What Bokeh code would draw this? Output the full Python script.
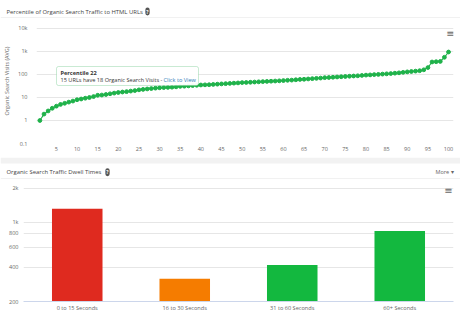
from bokeh.plotting import figure
from bokeh.layouts import column
from bokeh.models import (Range1d, FactorRange, FixedTicker, Label, Span,
                          BoxAnnotation, ColumnDataSource)
from bokeh.embed import file_html
from bokeh.resources import INLINE

# ---------------- data ----------------
percentiles = list(range(1, 101))
avg_visits = [
    1, 1.9, 2.6, 3.4, 4.2, 5.0, 5.6, 6.3, 7.0, 8.0,
    8.6, 9.3, 10, 11, 12.5, 12.8, 13.5, 14.5, 15.5, 16.5,
    17.3, 18, 19, 20, 21.5, 22.5, 23.5, 24.5, 25.5, 26.5,
    27, 27.5, 28, 29, 30.5, 31, 32, 33, 34, 35,
    35.5, 36, 37, 38, 39, 40, 41, 42, 43, 44.5,
    45, 46, 47, 48, 49, 50, 51, 52, 53, 54.5,
    56, 57, 59, 61, 62, 64, 66, 68, 70, 73,
    74, 76, 78, 80, 82, 84, 86, 88, 91, 94,
    96, 99, 101, 104, 107, 110, 114, 118, 124, 130,
    135, 140, 146, 160, 200, 350, 360, 370, 560, 950,
]
pct_ticks = [5, 10, 15, 20, 25, 30, 35, 40, 45, 50, 55, 60, 65, 70, 75, 80, 85, 90, 95, 100]
visit_ticks = [0.1, 1, 10, 100, 1000, 10000]
visit_tick_labels = ["0.1", "1", "10", "100", "1k", "10k"]

dwell_cats = ["0 to 15 Seconds", "16 to 30 Seconds", "31 to 60 Seconds", "60+ Seconds"]
dwell_vals = [1320, 318, 420, 840]
dwell_colors = ["#df2a1f", "#f57c00", "#13b83f", "#13b83f"]
dwell_ticks = [200, 400, 600, 800, 1000, 2000]
dwell_tick_labels = ["200", "400", "600", "800", "1k", "2k"]

FONT = "Open Sans"
GRID = "#e6e6e6"
TXT = "#666666"
HEAD = "#444444"
LINE_G = "#1fb24a"
W = 460


def header_fig(h):
    f = figure(width=W, height=h, x_range=Range1d(0, W), y_range=Range1d(0, h),
               x_axis_location=None, y_axis_location=None,
               output_backend="svg", toolbar_location=None,
               min_border=0, frame_align=False)
    f.grid.visible = False
    f.outline_line_color = None
    return f


def style_axis(ax, size="5.5px", standoff=3):
    ax.axis_line_color = None
    ax.major_tick_line_color = None
    ax.minor_tick_line_color = None
    ax.major_tick_out = 0
    ax.major_tick_in = 0
    ax.minor_tick_out = 0
    ax.major_label_standoff = standoff
    ax.major_label_text_font_size = size
    ax.major_label_text_font = FONT
    ax.major_label_text_color = TXT


def icon(x, y):
    return Label(x=x, y=y, text="?", text_font=FONT, text_font_size="4.8px",
                 text_font_style="bold", text_color="white", text_baseline="middle",
                 text_align="center", background_fill_color="#555555",
                 border_radius=4, padding=1)


# ---------------- header 1 ----------------
h1 = header_fig(18)
h1.add_layout(Label(x=6, y=7, text="Percentile of Organic Search Traffic to HTML URLs",
                    text_font=FONT, text_font_size="5.9px", text_color=HEAD,
                    text_baseline="middle"))
h1.add_layout(icon(147, 7))
h1.add_layout(Span(location=0.5, dimension="width", line_color="#e3e3e3", line_width=1))

# ---------------- top chart ----------------
p1 = figure(width=W, height=139, x_range=Range1d(0.18, 101.2),
            y_range=Range1d(0.1, 27200), y_axis_type="log",
            output_backend="svg", toolbar_location=None, frame_align=False,
            min_border_left=34, min_border_right=7, min_border_top=0, min_border_bottom=14)
p1.outline_line_color = None
p1.xgrid.grid_line_color = None
p1.ygrid.grid_line_color = GRID
p1.ygrid.ticker = FixedTicker(ticks=visit_ticks)

p1.yaxis.ticker = FixedTicker(ticks=visit_ticks)
p1.yaxis.major_label_overrides = {v: s for v, s in zip(visit_ticks, visit_tick_labels)}
style_axis(p1.yaxis[0], standoff=9)
p1.yaxis.axis_label = "Organic Search Visits (AVG)"
p1.yaxis.axis_label_text_font_size = "5.5px"
p1.yaxis.axis_label_text_font = FONT
p1.yaxis.axis_label_text_font_style = "normal"
p1.yaxis.axis_label_text_color = TXT
p1.yaxis.axis_label_standoff = 4

p1.xaxis.ticker = FixedTicker(ticks=pct_ticks)
style_axis(p1.xaxis[0], standoff=3)

src1 = ColumnDataSource(dict(x=percentiles, y=avg_visits))
p1.line("x", "y", source=src1, line_color=LINE_G, line_width=1.1)
p1.scatter("x", "y", source=src1, size=3.8, fill_color=LINE_G, line_color=LINE_G)

p1.add_layout(Label(x=414, y=110, x_units="screen", y_units="screen", text="≡",
                    text_font="DejaVu Sans", text_font_size="10px", text_color="#666666",
                    text_baseline="middle", text_align="center"))

# tooltip
p1.add_layout(BoxAnnotation(left=20, right=162, bottom=58, top=77,
                            left_units="screen", right_units="screen",
                            bottom_units="screen", top_units="screen",
                            fill_color="white", fill_alpha=0.95,
                            line_color="#4cbb6c", line_width=1, border_radius=2))
p1.add_layout(Label(x=24, y=71, x_units="screen", y_units="screen", text="Percentile 22",
                    text_font=FONT, text_font_size="5.6px", text_font_style="bold",
                    text_color="#333333", text_baseline="middle"))
p1.add_layout(Label(x=24, y=64, x_units="screen", y_units="screen",
                    text="15 URLs have 18 Organic Search Visits - ",
                    text_font=FONT, text_font_size="5.6px", text_color="#333333",
                    text_baseline="middle"))
p1.add_layout(Label(x=127, y=64, x_units="screen", y_units="screen",
                    text="Click to View",
                    text_font=FONT, text_font_size="5.6px", text_color="#2a7ab8",
                    text_baseline="middle"))

# ---------------- header 2 ----------------
h2 = header_fig(22)
h2.add_layout(BoxAnnotation(bottom=16, top=22, fill_color="#f2f2f2", fill_alpha=1,
                            line_color=None))
h2.add_layout(Label(x=6, y=7.3, text="Organic Search Traffic Dwell Times",
                    text_font=FONT, text_font_size="5.9px", text_color=HEAD,
                    text_baseline="middle"))
h2.add_layout(icon(107, 7.3))
h2.add_layout(Label(x=435, y=7.3, text="More ▾", text_font=FONT, text_font_size="5.5px",
                    text_color="#666666", text_baseline="middle"))
h2.add_layout(Span(location=0.5, dimension="width", line_color="#e3e3e3", line_width=1))

# ---------------- bottom chart ----------------
p2 = figure(width=W, height=135, x_range=FactorRange(factors=dwell_cats, range_padding=0),
            y_range=Range1d(200, 2391), y_axis_type="log",
            output_backend="svg", toolbar_location=None, frame_align=False,
            min_border_left=23, min_border_right=7, min_border_top=0, min_border_bottom=10)
p2.outline_line_color = None
p2.xgrid.grid_line_color = None
p2.ygrid.grid_line_color = GRID
p2.ygrid.ticker = FixedTicker(ticks=dwell_ticks)

p2.yaxis.ticker = FixedTicker(ticks=dwell_ticks)
p2.yaxis.major_label_overrides = {v: s for v, s in zip(dwell_ticks, dwell_tick_labels)}
style_axis(p2.yaxis[0], standoff=5)

style_axis(p2.xaxis[0], size="5.6px", standoff=2)
p2.xaxis.axis_line_color = "#ccd6eb"

src2 = ColumnDataSource(dict(x=dwell_cats, top=dwell_vals, color=dwell_colors))
p2.vbar(x="x", top="top", bottom=200, width=0.47, source=src2,
        fill_color="color", line_color=None)

p2.add_layout(Label(x=425, y=111, x_units="screen", y_units="screen", text="≡",
                    text_font="DejaVu Sans", text_font_size="10px", text_color="#666666",
                    text_baseline="middle", text_align="center"))

layout = column(h1, p1, h2, p2, spacing=0)
open("out.html", "w").write(file_html(layout, INLINE))
